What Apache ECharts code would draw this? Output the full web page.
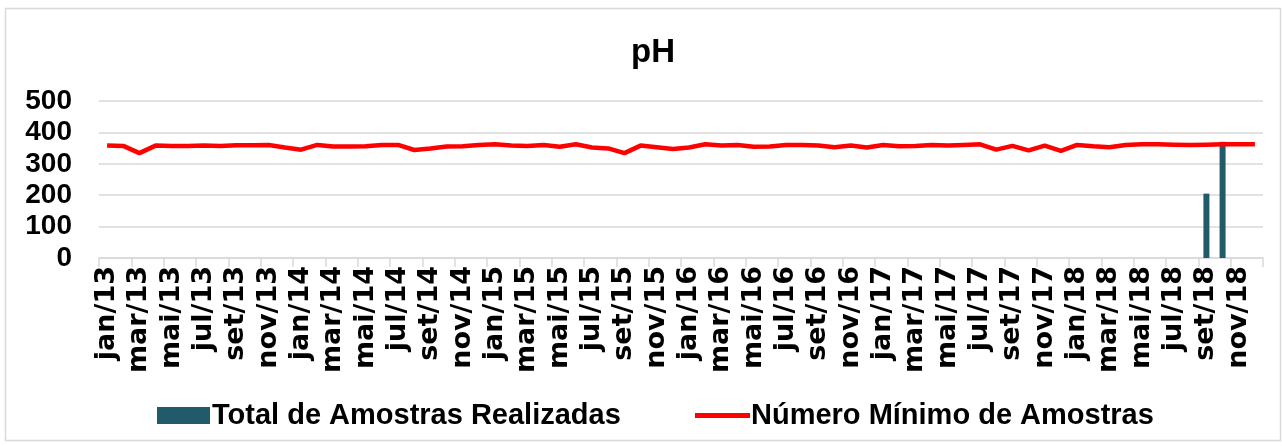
<!DOCTYPE html>
<html>
<head>
<meta charset="utf-8">
<script src="https://cdn.jsdelivr.net/npm/echarts@6/dist/echarts.min.js"></script>
<style>
html,body{margin:0;padding:0;background:#fff;}
#chart{width:1282px;height:446px;}
</style>
</head>
<body>
<div id="chart"></div>
<script>
const monthNames = ['jan','fev','mar','abr','mai','jun','jul','ago','set','out','nov','dez'];
const years = ['13','14','15','16','17','18'];
const categories = [];
years.forEach(y => monthNames.forEach(m => categories.push(m + '/' + y)));

const totalRealizadas = [
  null,null,null,null,null,null,null,null,null,null,null,null,
  null,null,null,null,null,null,null,null,null,null,null,null,
  null,null,null,null,null,null,null,null,null,null,null,null,
  null,null,null,null,null,null,null,null,null,null,null,null,
  null,null,null,null,null,null,null,null,null,null,null,null,
  null,null,null,null,null,null,null,null,205,370,null,null
];
const numeroMinimo = [
  358,357,334,358,357,357,358,357,359,359,360,352,
  345,360,355,355,356,360,360,344,349,355,356,360,
  362,358,357,360,354,362,352,349,334,358,353,347,
  352,362,358,360,354,355,360,360,358,353,358,352,
  360,356,357,360,358,360,362,345,357,343,358,341,
  360,356,353,360,362,362,361,360,361,362,362,362
];
const yTicks = [0,100,200,300,400,500];

const chart = echarts.init(document.getElementById('chart'), null, {renderer:'canvas'});
const FONT = '"Liberation Sans", Arial, sans-serif';
const legendText = {fontFamily:FONT,fontWeight:'bold',fontSize:29,color:'#000'};
chart.setOption({
  animation:false,
  backgroundColor:'#fff',
  graphic:[{
    type:'rect', shape:{x:5.5,y:8.5,width:1275,height:432},
    style:{fill:'none',stroke:'#d9d9d9',lineWidth:1.5}, silent:true, z:-1
  }],
  title:{
    text:'pH', left:626, top:31,
    textStyle:{fontFamily:FONT,fontWeight:'bold',fontSize:33,color:'#000'}
  },
  legend:[
    {
      left:152, top:396, itemWidth:53, itemHeight:17, itemGap:0,
      textStyle:Object.assign({padding:[0,0,0,-3]}, legendText),
      data:[{name:'Total de Amostras Realizadas', icon:'rect'}]
    },
    {
      left:690, top:396, itemWidth:55, itemHeight:5, itemGap:0,
      textStyle:Object.assign({padding:[0,0,0,-4]}, legendText),
      data:[{name:'Número Mínimo de Amostras', icon:'rect'}]
    }
  ],
  grid:{left:99, right:19, top:101, height:157, containLabel:false},
  xAxis:{
    type:'category', data:categories, boundaryGap:true,
    axisLine:{lineStyle:{color:'#d9d9d9',width:1.5}},
    axisTick:{show:true, interval:1, length:9, lineStyle:{color:'#d9d9d9',width:1.5}},
    axisLabel:{interval:1, rotate:90, margin:8, fontFamily:'"DejaVu Sans", sans-serif', fontWeight:'bold', fontSize:27, color:'#000'}
  },
  yAxis:{
    type:'value', min:0, max:500, interval:100,
    axisLine:{show:false}, axisTick:{show:false},
    splitLine:{lineStyle:{color:'#d9d9d9',width:1.5}},
    axisLabel:{margin:27, fontFamily:FONT, fontWeight:'bold', fontSize:28, color:'#000',
      formatter: v => yTicks.includes(v) ? String(v) : ''}
  },
  series:[
    {name:'Total de Amostras Realizadas', type:'bar', data:totalRealizadas,
     barWidth:6, itemStyle:{color:'#215a69'}},
    {name:'Número Mínimo de Amostras', type:'line', data:numeroMinimo,
     symbol:'none', lineStyle:{color:'#ff0000',width:4.5}, itemStyle:{color:'#ff0000'}, z:3}
  ]
});
</script>
</body>
</html>
